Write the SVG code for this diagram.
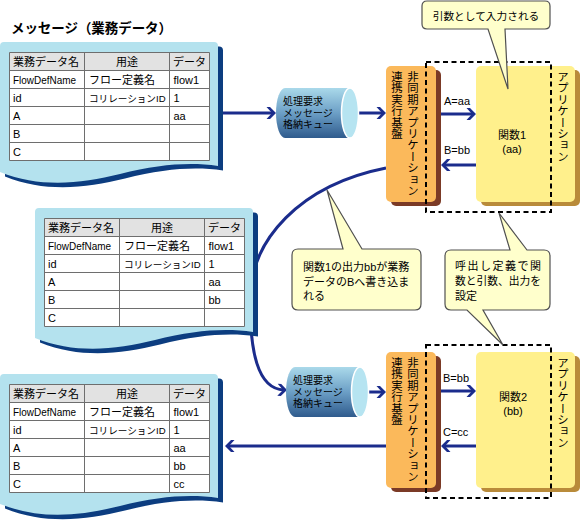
<svg xmlns="http://www.w3.org/2000/svg" width="580" height="521" viewBox="0 0 580 521">
<defs>
<style>
text{font-family:'Liberation Sans','Noto Sans CJK JP',sans-serif;fill:#000;}
.t{font-size:11px;}
.s{font-size:9.6px;}
.ttl{font-size:13.5px;font-weight:bold;}
.c{text-anchor:middle;}
.v{writing-mode:vertical-rl;font-size:11.4px;font-family:'Noto Sans CJK JP','Liberation Sans',sans-serif;}
.cy{font-size:10px;}
.co{font-size:11px;}
.arr{fill:none;stroke:#1b2c8c;stroke-width:3;}
.dash{fill:none;stroke:#000;stroke-width:2;stroke-dasharray:5 3.5;}
.call{fill:#ffffcc;stroke:#505050;stroke-width:1.2;}
.grid{fill:none;stroke:#6e6e6e;stroke-width:1;}
.or{fill:#fbb95b;}
.ors{fill:#7b3a26;}
.ye{fill:#fff08c;}
.yes{fill:#b98b3a;}
.face{fill:#b6e4f1;stroke:#fff;stroke-width:1.5;}
</style>
<linearGradient id="cylG" x1="0" y1="0" x2="0" y2="1">
<stop offset="0" stop-color="#aad9ea"/>
<stop offset="0.5" stop-color="#6c9fc6"/>
<stop offset="1" stop-color="#2f5b8d"/>
</linearGradient>
<marker id="ah" markerUnits="userSpaceOnUse" viewBox="-11 -7 12 14" markerWidth="12" markerHeight="14" refX="-3" refY="0" orient="auto">
<polygon points="0,0 -6,-6 -9.5,-6 -4,0 -9.5,6 -6,6" fill="#1b2c8c"/>
</marker>
<path id="docShape" d="M4,42 L214,42 Q218,42 218,46 L218,166 C190,162 160,164 120,174 C80,184 40,188 0,172 L0,46 Q0,42 4,42 Z"/>
<g id="grid">
<rect x="9.5" y="52.5" width="200" height="18" fill="#e2e2e2"/>
<rect x="9.5" y="70.5" width="200" height="90" fill="#fff"/>
<path class="grid" d="M9.5,52.5H209.5V160.5H9.5Z M9.5,70.5H209.5 M9.5,88.5H209.5 M9.5,106.5H209.5 M9.5,124.5H209.5 M9.5,142.5H209.5 M84.5,52.5V160.5 M169.5,52.5V160.5"/>
</g>
</defs>

<text class="ttl" x="11" y="33" textLength="161" lengthAdjust="spacing">メッセージ（業務データ）</text>

<g id="connectors">
<path class="arr" d="M386,168 C300,185 250,240 250,300 C250,350 257,389 284,390" marker-end="url(#ah)"/>
<path class="arr" d="M223,113 L273,113" marker-end="url(#ah)"/>
<path class="arr" d="M359,113 L383,113" marker-end="url(#ah)"/>
<path class="arr" d="M369,392 L383,392" marker-end="url(#ah)"/>
<path class="arr" d="M441,114 L473,114" marker-end="url(#ah)"/>
<path class="arr" d="M476,165 L444,165" marker-end="url(#ah)"/>
<path class="arr" d="M441,391 L473,391" marker-end="url(#ah)"/>
<path class="arr" d="M476,446 L444,446" marker-end="url(#ah)"/>
<path class="arr" d="M386,446 L228,446" marker-end="url(#ah)"/>
</g>

<g id="doc1">
<use href="#docShape" transform="translate(5,4.5)" fill="#0c3d80"/>
<use href="#docShape" fill="#b4e2ee"/>
<use href="#grid"/>
<text class="t" x="13" y="65.5">業務データ名</text>
<text class="t c" x="127" y="65.5">用途</text>
<text class="t c" x="189.5" y="65.5">データ</text>
<text class="t" x="13" y="83.5" textLength="63" lengthAdjust="spacingAndGlyphs">FlowDefName</text>
<text class="t" x="89" y="83.5">フロー定義名</text>
<text class="t" x="173.5" y="83.5">flow1</text>
<text class="t" x="13" y="101.5">id</text>
<text class="s" x="89" y="101.5">コリレーションID</text>
<text class="t" x="173.5" y="101.5">1</text>
<text class="t" x="13" y="119.5">A</text>
<text class="t" x="173.5" y="119.5">aa</text>
<text class="t" x="13" y="137.5">B</text>
<text class="t" x="13" y="155.5">C</text>
</g>

<g id="doc2" transform="translate(35,166)">
<use href="#docShape" transform="translate(5,4.5)" fill="#0c3d80"/>
<use href="#docShape" fill="#b4e2ee"/>
<use href="#grid"/>
<text class="t" x="13" y="65.5">業務データ名</text>
<text class="t c" x="127" y="65.5">用途</text>
<text class="t c" x="189.5" y="65.5">データ</text>
<text class="t" x="13" y="83.5" textLength="63" lengthAdjust="spacingAndGlyphs">FlowDefName</text>
<text class="t" x="89" y="83.5">フロー定義名</text>
<text class="t" x="173.5" y="83.5">flow1</text>
<text class="t" x="13" y="101.5">id</text>
<text class="s" x="89" y="101.5">コリレーションID</text>
<text class="t" x="173.5" y="101.5">1</text>
<text class="t" x="13" y="119.5">A</text>
<text class="t" x="173.5" y="119.5">aa</text>
<text class="t" x="13" y="137.5">B</text>
<text class="t" x="173.5" y="137.5">bb</text>
<text class="t" x="13" y="155.5">C</text>
</g>

<g id="doc3" transform="translate(0,332)">
<use href="#docShape" transform="translate(5,4.5)" fill="#0c3d80"/>
<use href="#docShape" fill="#b4e2ee"/>
<use href="#grid"/>
<text class="t" x="13" y="65.5">業務データ名</text>
<text class="t c" x="127" y="65.5">用途</text>
<text class="t c" x="189.5" y="65.5">データ</text>
<text class="t" x="13" y="83.5" textLength="63" lengthAdjust="spacingAndGlyphs">FlowDefName</text>
<text class="t" x="89" y="83.5">フロー定義名</text>
<text class="t" x="173.5" y="83.5">flow1</text>
<text class="t" x="13" y="101.5">id</text>
<text class="s" x="89" y="101.5">コリレーションID</text>
<text class="t" x="173.5" y="101.5">1</text>
<text class="t" x="13" y="119.5">A</text>
<text class="t" x="173.5" y="119.5">aa</text>
<text class="t" x="13" y="137.5">B</text>
<text class="t" x="173.5" y="137.5">bb</text>
<text class="t" x="13" y="155.5">C</text>
<text class="t" x="173.5" y="155.5">cc</text>
</g>

<g id="queue1">
<path d="M285,88 L350,88 L350,138 L285,138 A9,25 0 0 1 285,88 Z" fill="url(#cylG)"/>
<ellipse class="face" cx="350" cy="113" rx="8.5" ry="25"/>
<text class="cy" x="283" y="105">処理要求</text>
<text class="cy" x="283" y="116.5">メッセージ</text>
<text class="cy" x="283" y="128">格納キュー</text>
</g>

<g id="queue2">
<path d="M295,367 L360,367 L360,417 L295,417 A9,25 0 0 1 295,367 Z" fill="url(#cylG)"/>
<ellipse class="face" cx="360" cy="392" rx="8.5" ry="25"/>
<text class="cy" x="293" y="384">処理要求</text>
<text class="cy" x="293" y="395.5">メッセージ</text>
<text class="cy" x="293" y="407">格納キュー</text>
</g>

<g id="platform1">
<rect class="ors" x="391" y="70" width="50" height="136" rx="5"/>
<rect class="or" x="386" y="66" width="50" height="136" rx="5"/>
<text class="v" x="413" y="71">非同期アプリケーション</text>
<text class="v" x="397" y="71">連携実行基盤</text>
</g>

<g id="app1">
<rect class="yes" x="481" y="70" width="99" height="136" rx="5"/>
<rect class="ye" x="476" y="66" width="99" height="136" rx="5"/>
<text class="v" x="563" y="71">アプリケーション</text>
<text class="t c" x="512" y="139">関数1</text>
<text class="t c" x="512" y="153">(aa)</text>
<text class="t" x="444" y="105">A=aa</text>
<text class="t" x="444" y="154">B=bb</text>
</g>

<g id="platform2">
<rect class="ors" x="391" y="356" width="50" height="136" rx="5"/>
<rect class="or" x="386" y="352" width="50" height="136" rx="5"/>
<text class="v" x="413" y="357">非同期アプリケーション</text>
<text class="v" x="397" y="357">連携実行基盤</text>
</g>

<g id="app2">
<rect class="yes" x="481" y="356" width="99" height="136" rx="5"/>
<rect class="ye" x="476" y="352" width="99" height="136" rx="5"/>
<text class="v" x="563" y="357">アプリケーション</text>
<text class="t c" x="513" y="401">関数2</text>
<text class="t c" x="513" y="415">(bb)</text>
<text class="t" x="443" y="381.5">B=bb</text>
<text class="t" x="443" y="436">C=cc</text>
</g>

<g id="scope1"><rect class="dash" x="426" y="62" width="125" height="150"/></g>
<g id="scope2"><rect class="dash" x="426" y="345" width="125" height="153"/></g>

<g id="note1">
<path class="call" d="M427,1 L545,1 Q550,1 550,6 L550,24 Q550,29 545,29 L505,29 L508,89 L488,29 L427,29 Q422,29 422,24 L422,6 Q422,1 427,1 Z"/>
<text class="c" x="486" y="19.5" style="font-size:10.7px">引数として入力される</text>
</g>

<g id="note2">
<path class="call" d="M298,249 L343,249 L327,190 L362,249 L415,249 Q421,249 421,255 L421,304 Q421,310 415,310 L298,310 Q292,310 292,304 L292,255 Q292,249 298,249 Z"/>
<text class="co" x="303" y="271">関数1の出力bbが業務</text>
<text class="co" x="303" y="285.5">データのBへ書き込ま</text>
<text class="co" x="303" y="300">れる</text>
</g>

<g id="note3">
<path class="call" d="M451,250 L510,250 L499,213 L527,250 L544,250 Q550,250 550,256 L550,304 Q550,310 544,310 L483,310 L503,345 L467,310 L451,310 Q445,310 445,304 L445,256 Q445,250 451,250 Z"/>
<text class="co" x="455" y="270" textLength="86" lengthAdjust="spacing">呼出し定義で関</text>
<text class="co" x="455" y="284.5" textLength="86" lengthAdjust="spacingAndGlyphs">数と引数、出力を</text>
<text class="co" x="455" y="300">設定</text>
</g>
</svg>
